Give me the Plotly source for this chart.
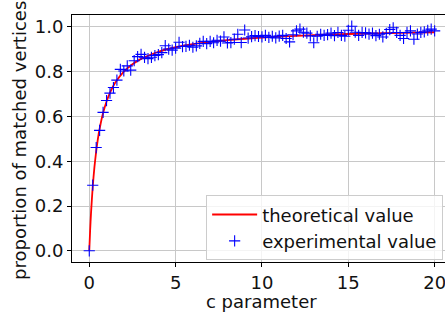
import plotly.graph_objects as go

# theoretical curve
c_theory = [0, 0.05, 0.1, 0.2, 0.3, 0.4, 0.5, 0.6, 0.8, 1.0, 1.25, 1.5, 2.0, 2.5, 3.0, 4.0,
            5.0, 6.0, 7.0, 8.0, 10.0, 12.0, 14.0, 16.0, 18.0, 20.0]
y_theory = [0.0, 0.091, 0.167, 0.286, 0.375, 0.444, 0.5, 0.545, 0.615, 0.667, 0.714, 0.75,
            0.8, 0.833, 0.857, 0.889, 0.909, 0.923, 0.933, 0.941, 0.952, 0.96, 0.966,
            0.97, 0.973, 0.976]

c_exp = [0.0, 0.2, 0.4, 0.6, 0.8, 1.0, 1.2, 1.4, 1.6, 1.8,
         2.0, 2.2, 2.4, 2.6, 2.8, 3.0, 3.2, 3.4, 3.6, 3.8,
         4.0, 4.2, 4.4, 4.6, 4.8, 5.0, 5.2, 5.4, 5.6, 5.8,
         6.0, 6.2, 6.4, 6.6, 6.8, 7.0, 7.2, 7.4, 7.6, 7.8,
         8.0, 8.2, 8.4, 8.6, 8.8, 9.0, 9.2, 9.4, 9.6, 9.8,
         10.0, 10.2, 10.4, 10.6, 10.8, 11.0, 11.2, 11.4, 11.6, 11.8,
         12.0, 12.2, 12.4, 12.6, 12.8, 13.0, 13.2, 13.4, 13.6, 13.8,
         14.0, 14.2, 14.4, 14.6, 14.8, 15.0, 15.2, 15.4, 15.6, 15.8,
         16.0, 16.2, 16.4, 16.6, 16.8, 17.0, 17.2, 17.4, 17.6, 17.8,
         18.0, 18.2, 18.4, 18.6, 18.8, 19.0, 19.2, 19.4, 19.6, 19.8, 20.0]
y_exp = [0.0, 0.293, 0.461, 0.538, 0.618, 0.671, 0.704, 0.729, 0.762, 0.81,
         0.803, 0.826, 0.807, 0.849, 0.867, 0.877, 0.864, 0.858, 0.864, 0.872,
         0.876, 0.885, 0.916, 0.901, 0.896, 0.905, 0.931, 0.912, 0.913, 0.918,
         0.909, 0.915, 0.926, 0.935, 0.925, 0.935, 0.929, 0.94, 0.936, 0.955,
         0.928, 0.93, 0.945, 0.967, 0.93, 0.986, 0.95, 0.956, 0.961, 0.957,
         0.955, 0.962, 0.953, 0.958, 0.951, 0.959, 0.962, 0.948, 0.933, 0.965,
         0.982, 0.99, 0.976, 0.972, 0.96, 0.929, 0.958, 0.967, 0.962, 0.965,
         0.972, 0.961, 0.975, 0.962, 0.958, 0.985, 1.003, 0.976, 0.962, 0.975,
         0.973, 0.968, 0.972, 0.961, 0.967, 0.955, 0.971, 0.988, 0.996, 0.975,
         0.962, 0.948, 0.975, 0.982, 0.945, 0.968, 0.975, 0.978, 0.985, 0.99, 0.982]

x_ticks = [0, 5, 10, 15, 20]
y_ticks = [0.0, 0.2, 0.4, 0.6, 0.8, 1.0]

FONT = "DejaVu Sans"
fig = go.Figure()
fig.add_trace(go.Scatter(x=c_theory, y=y_theory, mode="lines", name="theoretical value",
                         line=dict(color="red", width=1.8, shape="spline", smoothing=0.6)))
fig.add_trace(go.Scatter(x=c_exp, y=y_exp, mode="markers", name="experimental value",
                         marker=dict(symbol="cross-thin", size=8, color="blue",
                                     line=dict(color="blue", width=1.1))))

axis_common = dict(showgrid=True, gridcolor="#c8c8c8", gridwidth=1, zeroline=False,
                   showline=True, linecolor="black", linewidth=1, automargin=False,
                   ticks="outside", ticklen=4, tickwidth=1, tickcolor="black",
                   ticklabeloverflow="allow",
                   tickfont=dict(family=FONT, size=18, color="#111"))
fig.update_xaxes(range=[-1.0, 20.6], tickvals=x_ticks, mirror=True, **axis_common)
fig.update_yaxes(range=[-0.05, 1.053], tickvals=y_ticks, tickformat=".1f", **axis_common)

fig.update_layout(
    width=445, height=317,
    margin=dict(l=72, r=0, t=15, b=55, autoexpand=False),
    plot_bgcolor="white", paper_bgcolor="white",
    font=dict(family=FONT, size=18, color="#111"),
    legend=dict(x=0.995, y=0.27, xanchor="right", yanchor="top", itemwidth=45,
                bgcolor="rgba(255,255,255,0.8)", bordercolor="#cccccc", borderwidth=1,
                font=dict(family=FONT, size=18, color="#111")),
    annotations=[
        dict(text="c parameter", xref="paper", yref="paper", x=0.509, y=-0.16,
             xanchor="center", yanchor="middle", showarrow=False,
             font=dict(family=FONT, size=18, color="#111")),
        dict(text="proportion of matched vertices", xref="paper", yref="paper",
             x=-0.1394, y=0.49, xanchor="center", yanchor="middle", textangle=-90,
             showarrow=False, font=dict(family=FONT, size=18, color="#111")),
    ],
)
fig.write_html("out.html", config={"displayModeBar": False},
               post_script="document.body.style.margin='0px';document.body.style.overflow='hidden';")
